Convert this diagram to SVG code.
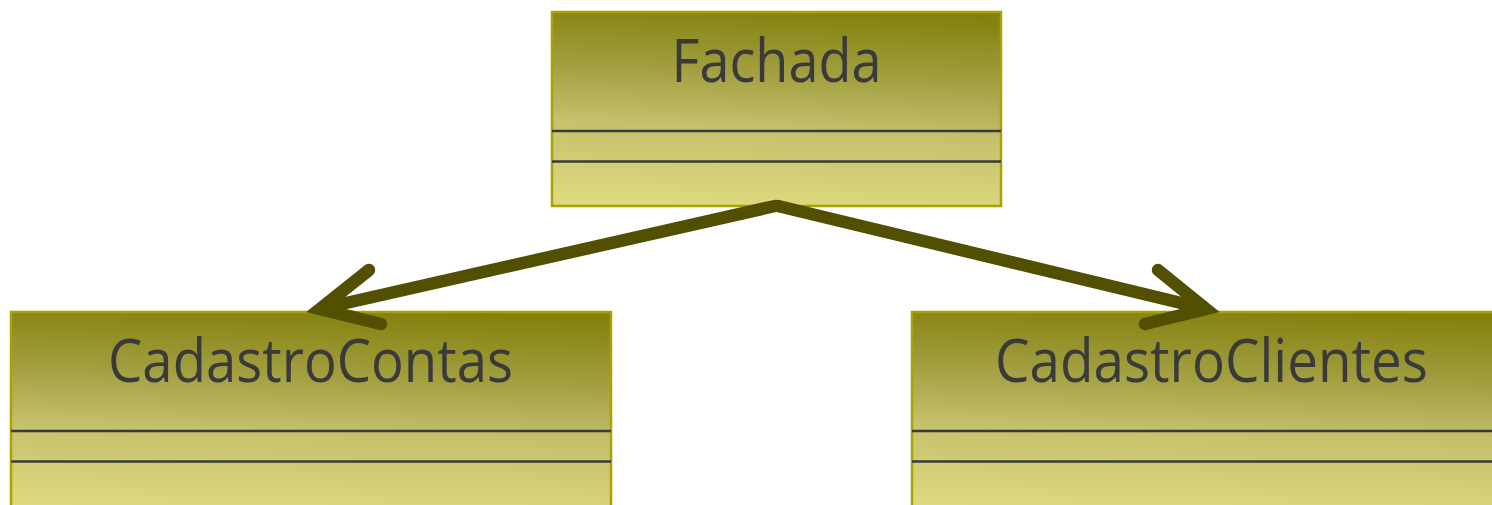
<svg xmlns="http://www.w3.org/2000/svg" width="1492" height="505" viewBox="0 0 1492 505">
<defs>
<linearGradient id="g" x1="0.55" y1="0" x2="0.45" y2="1">
<stop offset="0" stop-color="#84820f"/>
<stop offset="0.3" stop-color="#a09d3e"/>
<stop offset="0.6" stop-color="#c4c06c"/>
<stop offset="1" stop-color="#dcd97e"/>
</linearGradient>
<style>
.box{fill:url(#g);stroke:#a8a300;stroke-width:2.5}
.sep{stroke:#3a3a3a;stroke-width:2.5}
.lbl{font-family:"Open Sans","Noto Sans",sans-serif;font-size:60px;fill:#3a3a3a;text-anchor:middle}
.con{fill:none;stroke:#525000;stroke-width:12.5;stroke-linecap:round;stroke-linejoin:miter;stroke-miterlimit:10}
</style>
</defs>
<g id="fachada">
<rect class="box" x="552" y="12" width="449" height="194"/>
<line class="sep" x1="552" y1="131" x2="1001" y2="131"/>
<line class="sep" x1="552" y1="161.5" x2="1001" y2="161.5"/>
<text class="lbl" x="776.5" y="82" textLength="210" lengthAdjust="spacingAndGlyphs">Fachada</text>
</g>
<g id="cadastroContas">
<rect class="box" x="11" y="312" width="600" height="200"/>
<line class="sep" x1="11" y1="431" x2="611" y2="431"/>
<line class="sep" x1="11" y1="461.5" x2="611" y2="461.5"/>
<text class="lbl" x="310.5" y="382" textLength="405" lengthAdjust="spacingAndGlyphs">CadastroContas</text>
</g>
<g id="cadastroClientes">
<rect class="box" x="912" y="312" width="600" height="200"/>
<line class="sep" x1="912" y1="431" x2="1512" y2="431"/>
<line class="sep" x1="912" y1="461.5" x2="1512" y2="461.5"/>
<text class="lbl" x="1211.5" y="382" textLength="433" lengthAdjust="spacingAndGlyphs">CadastroClientes</text>
</g>
<g id="connectors">
<path class="con" d="M775,206 L324,308"/>
<path class="con" d="M369,270 L320,309 L381,324"/>
<path class="con" d="M778,206 L1202,308"/>
<path class="con" d="M1158,270 L1206,309 L1145,324"/>
</g>
</svg>
